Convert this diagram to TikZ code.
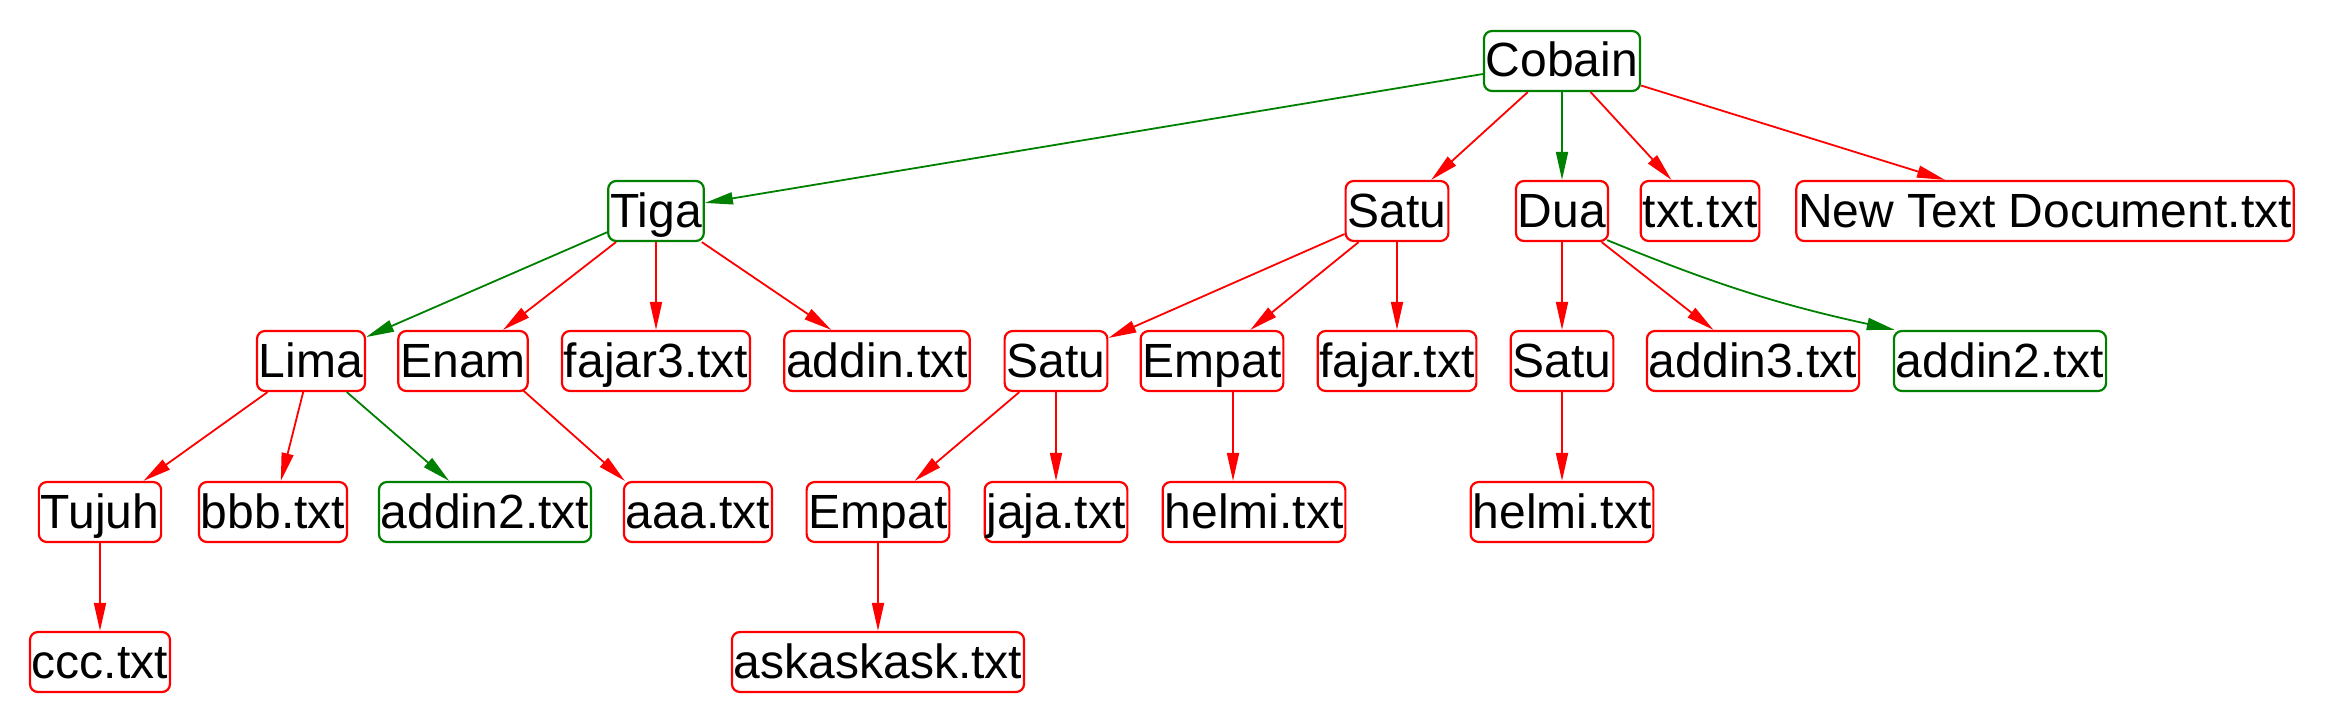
\documentclass[tikz,border=0pt]{standalone}
\usepackage{fontspec}
\setmainfont{Liberation Sans}
\usetikzlibrary{arrows.meta}
\definecolor{grn}{RGB}{0,128,0}
\begin{document}
\begin{tikzpicture}[x=0.5pt,y=-0.5pt,
    box/.style={draw=red,rounded corners=4pt,line width=1.1pt,inner xsep=1pt,inner ysep=0pt,text height=23pt,text depth=7pt,font=\fontsize{24}{28}\selectfont},
    gbox/.style={box,draw=grn},
    redge/.style={red,line width=0.9pt,-{Triangle[length=14pt,width=6pt]}},
    grnedge/.style={redge,grn}]
  \useasboundingbox (0,0) rectangle (2327,722);
  % root
  \node[gbox] (cobain) at (1562,61) {Cobain};
  % level 1
  \node[gbox] (tiga) at (656,211) {Tiga};
  \node[box] (satu) at (1397,211) {Satu};
  \node[box] (dua) at (1562,211) {Dua};
  \node[box] (txt) at (1700,211) {txt.txt};
  \node[box] (newtxt) at (2045,211) {New Text Document.txt};
  % level 2
  \node[box] (lima) at (311,361) {Lima};
  \node[box] (enam) at (463,361) {Enam};
  \node[box] (fajartiga) at (656,361) {fajar3.txt};
  \node[box] (addin) at (877,361) {addin.txt};
  \node[box] (satusatu) at (1056,361) {Satu};
  \node[box] (empat) at (1212,361) {Empat};
  \node[box] (fajar) at (1397,361) {fajar.txt};
  \node[box] (duasatu) at (1562,361) {Satu};
  \node[box] (addintiga) at (1753,361) {addin3.txt};
  \node[gbox] (addindua) at (2000,361) {addin2.txt};
  % level 3
  \node[box] (tujuh) at (100,512) {Tujuh};
  \node[box] (bbb) at (273,512) {bbb.txt};
  \node[gbox] (limaaddin) at (485,512) {addin2.txt};
  \node[box] (aaa) at (698,512) {aaa.txt};
  \node[box] (empatdua) at (878,512) {Empat};
  \node[box] (jaja) at (1056,512) {jaja.txt};
  \node[box] (helmi) at (1254,512) {helmi.txt};
  \node[box] (helmidua) at (1562,512) {helmi.txt};
  % level 4
  \node[box] (ccc) at (100,662) {ccc.txt};
  \node[box] (askask) at (878,662) {askaskask.txt};
  % edges
  \draw[grnedge] (cobain) -- (tiga);
  \draw[redge] (cobain) -- (satu);
  \draw[grnedge] (cobain) -- (dua);
  \draw[redge] (cobain) -- (txt);
  \draw[redge] (cobain) -- (newtxt);
  \draw[grnedge] (tiga) -- (lima);
  \draw[redge] (tiga) -- (enam);
  \draw[redge] (tiga) -- (fajartiga);
  \draw[redge] (tiga) -- (addin);
  \draw[redge] (satu) -- (satusatu);
  \draw[redge] (satu) -- (empat);
  \draw[redge] (satu) -- (fajar);
  \draw[redge] (dua) -- (duasatu);
  \draw[redge] (dua) -- (addintiga);
  \draw[grnedge] ([xshift=-1pt,yshift=1pt]dua.south east) to[bend right=5] ([xshift=1pt]addindua.north west);
  \draw[redge] (lima) -- (tujuh);
  \draw[redge] (lima) -- (bbb);
  \draw[grnedge] (lima) -- (limaaddin);
  \draw[redge] ([xshift=-3pt,yshift=1pt]enam.south east) -- ([xshift=1pt]aaa.north west);
  \draw[redge] (satusatu) -- (empatdua);
  \draw[redge] (satusatu) -- (jaja);
  \draw[redge] ([xshift=10.5pt]empat.south) -- ([xshift=-10.5pt]helmi.north);
  \draw[redge] (duasatu) -- (helmidua);
  \draw[redge] (tujuh) -- (ccc);
  \draw[redge] (empatdua) -- (askask);
\end{tikzpicture}
\end{document}
